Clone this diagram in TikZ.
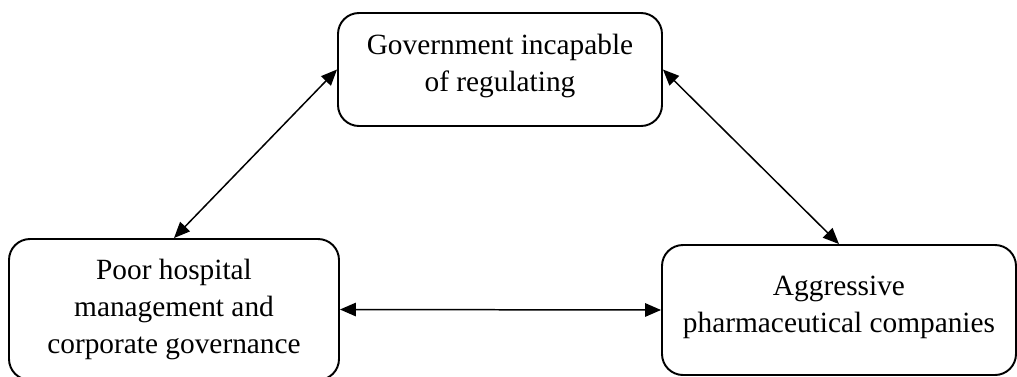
\documentclass[tikz,border=0pt]{standalone}
\usepackage{fontspec}
\setmainfont{Liberation Serif}
\usetikzlibrary{arrows.meta}

\tikzset{
    factor/.style={draw, line width=1.1pt, rounded corners=0.42cm, align=center,
        font=\fontsize{16.7}{21}\selectfont},
    link/.style={line width=0.85pt, {Triangle[length=0.32cm,width=0.27cm]}-{Triangle[length=0.32cm,width=0.27cm]}}
}

\begin{document}
\begin{tikzpicture}
        \useasboundingbox (0,0) rectangle (20.34,7.52);

        %% FACTORS
        % Government
        \node[factor, minimum width=6.48cm, minimum height=2.26cm, text depth=0.25cm] (gov) at (10.0,6.13)
            {Government incapable\\of regulating};
        % Hospitals
        \node[factor, minimum width=6.6cm, minimum height=2.82cm] (hosp) at (3.48,1.33)
            {Poor hospital\\management and\\corporate governance};
        % Pharma
        \node[factor, minimum width=7.08cm, minimum height=2.6cm, text depth=0.24cm] (pharma) at (16.78,1.32)
            {Aggressive\\pharmaceutical companies};

        %% LINKS
        \draw[link] (hosp.north) -- (gov.west);
        \draw[link] (gov.east) -- (pharma.north);
        \draw[link] (hosp.east) -- (pharma.west);
    \end{tikzpicture}
\end{document}
